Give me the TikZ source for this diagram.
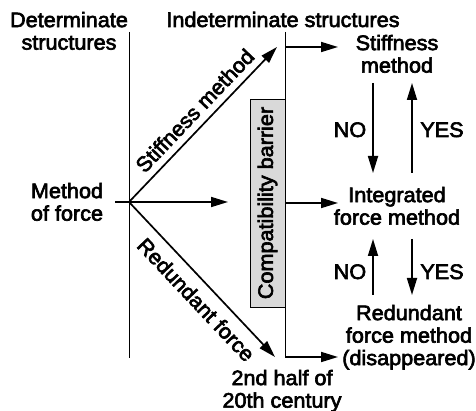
\documentclass[tikz,border=0pt]{standalone}
\usepackage{fontspec}
\setmainfont{Liberation Sans}[FakeStretch=1.03,FakeBold=3]
\usetikzlibrary{arrows.meta}
\begin{document}
\begin{tikzpicture}[x=1pt,y=-1pt,
  txt/.style={font=\fontsize{21}{22.5}\selectfont, inner sep=0pt, align=center},
  arr/.style={line width=1.7pt, -{Triangle[length=17pt,width=10pt]}},
  thinline/.style={line width=0.9pt}]
\useasboundingbox (0,0) rectangle (476,411);
% text nodes
\node[txt, anchor=north] (det) at (69,11.7) {Determinate\\structures};
\node[txt, anchor=base] (indet) at (283,27) {Indeterminate structures};
\node[txt, anchor=north] (mof) at (67,182.7) {Method\\of force};
\node[txt, anchor=north] (stiff) at (397,34.7) {Stiffness\\method};
\node[txt, anchor=north] (integ) at (397,186.7) {Integrated\\force method};
\node[txt, anchor=north] (redun) at (409,304.7) {Redundant\\force method\\(disappeared)};
\node[txt, anchor=north] (half) at (282,369.7) {2nd half of\\20th century};
\node[txt, anchor=base] (no1) at (350,137) {NO};
\node[txt, anchor=base] (yes1) at (442,137) {YES};
\node[txt, anchor=base] (no2) at (350,279) {NO};
\node[txt, anchor=base] (yes2) at (442,279) {YES};
% barrier box
\node[txt, draw, thinline, fill=gray!30, rotate=90, minimum width=208pt, minimum height=35pt] (bar) at (267.5,203) {Compatibility barrier};
% coordinates
\coordinate (O) at (129,202);
\coordinate (L1) at (129,32);
\coordinate (L2) at (129,358);
\coordinate (R1) at (285,32);
\coordinate (R2) at (285,357);
\coordinate (Rtop) at (285,47);
\coordinate (Rmid) at (285,203);
\coordinate (Ttop) at (338,47);
\coordinate (Tmid) at (338,203);
\coordinate (Tbot) at (338,357);
\coordinate (H0) at (115,202);
\coordinate (H1) at (228,202);
\coordinate (ST) at (277,47);
\coordinate (RF) at (275,357);
\coordinate (a1s) at (373,83);
\coordinate (a1e) at (373,173);
\coordinate (b1s) at (412,173);
\coordinate (b1e) at (412,83);
\coordinate (a2s) at (373,295);
\coordinate (a2e) at (373,239);
\coordinate (b2s) at (412,239);
\coordinate (b2e) at (412,295);
% lines
\draw[thinline] (L1) -- (L2);
\draw[thinline] (R1) -- (R2);
\draw[arr] (H0) -- (H1);
\draw[arr] (O) -- node[txt, sloped, anchor=south, pos=0.52, inner ysep=7pt] {Stiffness method} (ST);
\draw[arr] (O) -- node[txt, sloped, anchor=north, pos=0.55, inner ysep=9.5pt] {Redundant force} (RF);
\draw[arr] (Rtop) -- (Ttop);
\draw[arr] (Rmid) -- (Tmid);
\draw[arr] (R2) -- (Tbot);
\draw[arr] (a1s) -- (a1e);
\draw[arr] (b1s) -- (b1e);
\draw[arr] (a2s) -- (a2e);
\draw[arr] (b2s) -- (b2e);
\end{tikzpicture}
\end{document}
